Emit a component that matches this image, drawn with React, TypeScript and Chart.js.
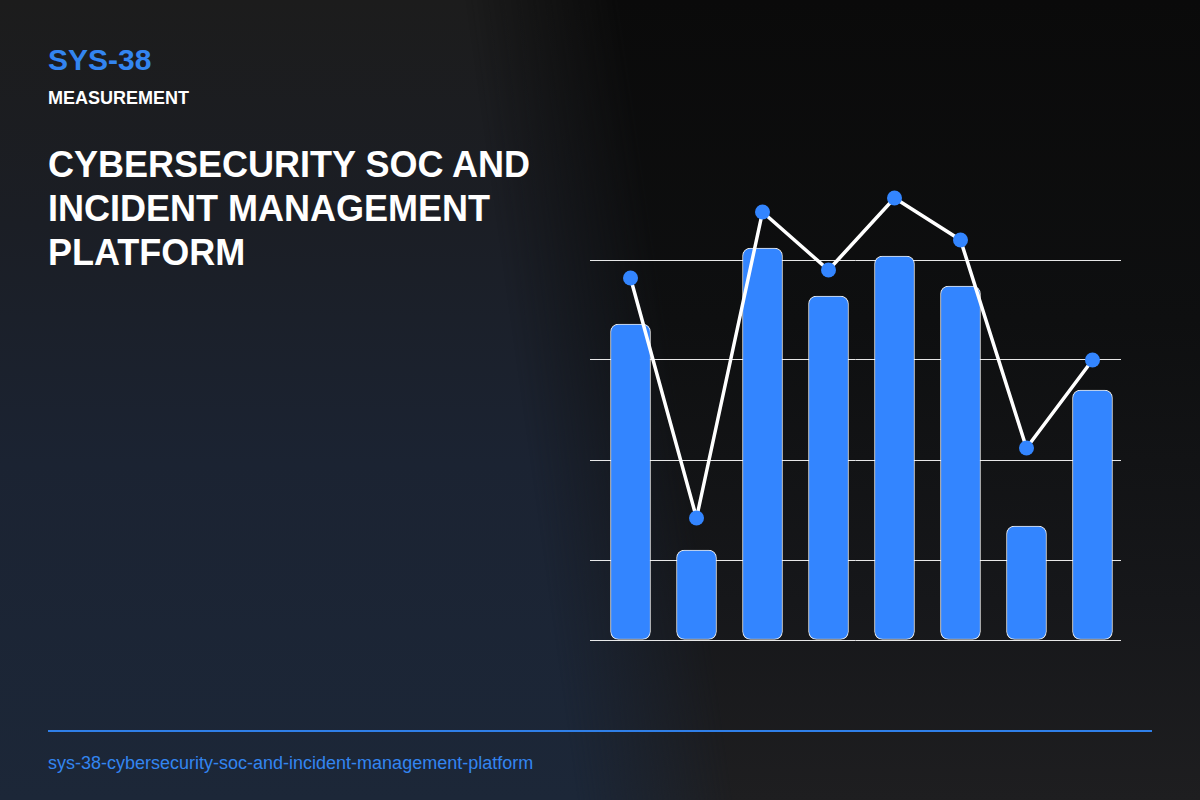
import React, { useEffect, useRef } from "react";
import { Chart, registerables } from "chart.js";

Chart.register(...registerables);

const categories = ["C1", "C2", "C3", "C4", "C5", "C6", "C7", "C8"];
const barValues = [79, 22.5, 98, 86, 96, 88.5, 28.5, 62.5];
const lineValues = [90.5, 30.5, 107, 92.5, 110.5, 100, 48, 70];
const gridValues = [0, 20, 45, 70, 95];

const BLUE = "#3385ff";
const FONT = "'Liberation Sans', Arial, Helvetica, sans-serif";

export default function App() {
  const canvasRef = useRef<HTMLCanvasElement | null>(null);

  useEffect(() => {
    document.body.style.margin = "0";
    const canvas = canvasRef.current;
    if (!canvas) return;
    const chart = new Chart(canvas, {
      type: "bar",
      data: {
        datasets: [
          {
            type: "line",
            label: "Trend",
            data: categories.map((_, i) => ({ x: i, y: lineValues[i] })),
            borderColor: "#ffffff",
            borderWidth: 3.5,
            pointRadius: 7.5,
            pointHoverRadius: 7.5,
            pointBackgroundColor: BLUE,
            pointBorderWidth: 0,
            tension: 0,
            clip: false,
            order: 0,
          } as any,
          {
            type: "bar",
            label: "Value",
            data: categories.map((_, i) => ({ x: i, y: barValues[i] })),
            backgroundColor: BLUE,
            borderColor: "rgba(255,255,255,0.9)",
            borderWidth: 1,
            borderRadius: 8,
            borderSkipped: false,
            barThickness: 40,
            order: 1,
          } as any,
        ],
      },
      options: {
        animation: false,
        responsive: false,
        maintainAspectRatio: false,
        layout: { autoPadding: false, padding: { top: 0, bottom: 4, left: 0, right: 0 } },
        plugins: {
          legend: { display: false },
          tooltip: { enabled: false },
        },
        scales: {
          x: {
            type: "linear",
            min: -0.614,
            max: 7.432,
            offset: false,
            display: false,
            grid: { offset: false },
          },
          y: {
            min: 0,
            max: 120,
            display: true,
            ticks: { display: false },
            border: { display: false },
            grid: {
              color: "rgba(255,255,255,0.9)",
              lineWidth: 1,
              drawTicks: false,
            },
            afterBuildTicks: (scale: any) => {
              scale.ticks = gridValues.map((v) => ({ value: v }));
            },
          },
        },
      } as any,
    });
    return () => chart.destroy();
  }, []);

  const mask = "linear-gradient(82deg, transparent 44%, black 56%)";

  return (
    <div
      style={{
        position: "absolute",
        left: 0,
        top: 0,
        width: 1200,
        height: 800,
        overflow: "hidden",
        fontFamily: FONT,
        background:
          "linear-gradient(to bottom, #1c1c1c 0%, #1b1e25 28%, #1b2332 58%, #1c2738 100%)",
      }}
    >
      <div
        style={{
          position: "absolute",
          left: 0,
          top: 0,
          width: 1200,
          height: 800,
          background:
            "linear-gradient(to bottom, #0a0a0a 0%, #0e0f10 40%, #16171a 75%, #1e1e20 100%)",
          WebkitMaskImage: mask,
          maskImage: mask,
        } as any}
      />
      <div
        style={{
          position: "absolute",
          left: 48,
          top: 45,
          fontSize: 30,
          lineHeight: 1,
          fontWeight: 700,
          color: "#3385f0",
        }}
      >
        SYS-38
      </div>
      <div
        style={{
          position: "absolute",
          left: 48,
          top: 89,
          fontSize: 18,
          lineHeight: 1,
          fontWeight: 700,
          color: "#ffffff",
        }}
      >
        MEASUREMENT
      </div>
      <div
        style={{
          position: "absolute",
          left: 48,
          top: 143,
          width: 520,
          fontSize: 36,
          lineHeight: "44px",
          fontWeight: 700,
          color: "#ffffff",
        }}
      >
        CYBERSECURITY SOC AND INCIDENT MANAGEMENT PLATFORM
      </div>
      <canvas
        ref={canvasRef}
        width={531}
        height={484}
        style={{ position: "absolute", left: 590, top: 160, width: 531, height: 484 }}
      />
      <div
        style={{
          position: "absolute",
          left: 48,
          top: 730,
          width: 1104,
          height: 2,
          background: "#2f7fe8",
        }}
      />
      <div
        style={{
          position: "absolute",
          left: 48,
          top: 754,
          fontSize: 18,
          lineHeight: 1,
          color: "#3385f0",
        }}
      >
        sys-38-cybersecurity-soc-and-incident-management-platform
      </div>
    </div>
  );
}
